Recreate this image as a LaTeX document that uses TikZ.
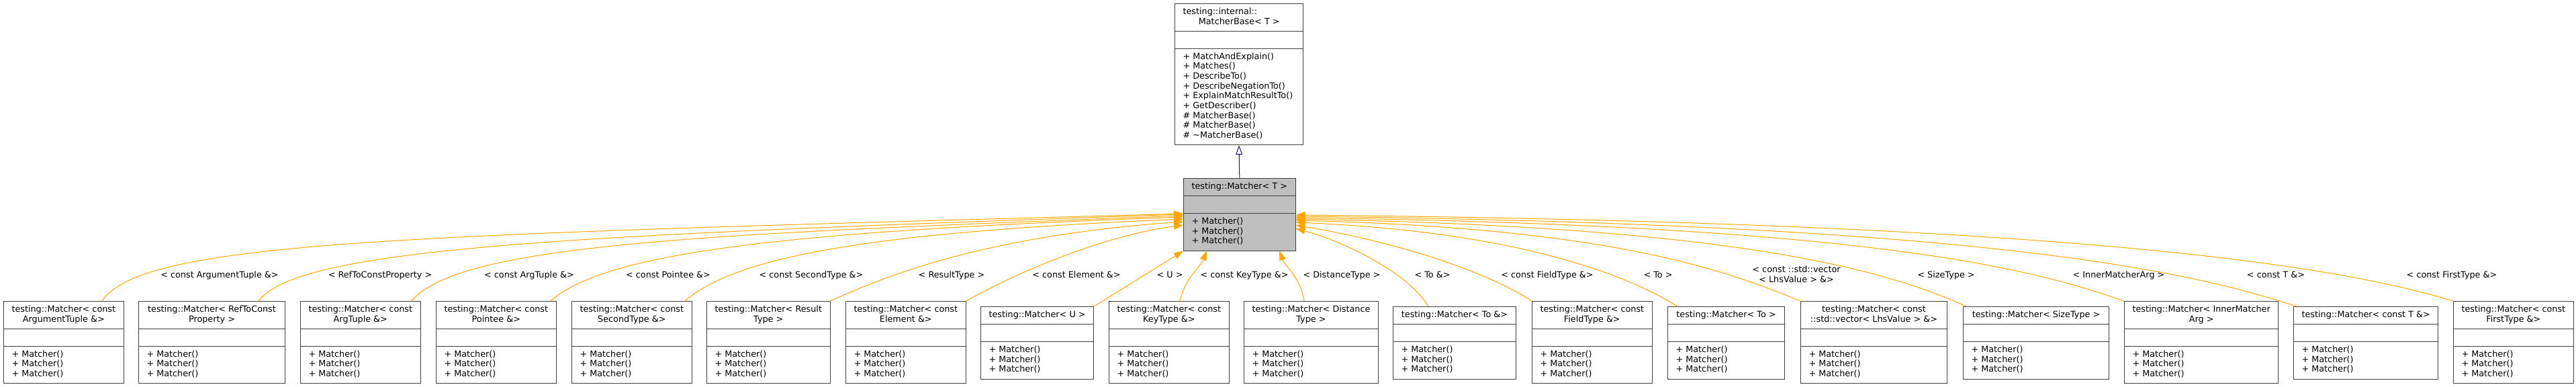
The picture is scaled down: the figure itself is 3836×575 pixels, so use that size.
\documentclass[tikz,border=0pt]{standalone}
\usepackage{fontspec}
\setmainfont{DejaVu Sans}
\usetikzlibrary{shapes.multipart,arrows.meta,calc}
\definecolor{edgeorange}{HTML}{FFA500}
\definecolor{edgenavy}{HTML}{191970}
\definecolor{boxgray}{HTML}{BFBFBF}
\newcommand{\ttl}[1]{\begin{tabular}{@{}c@{}}#1\end{tabular}}
\newcommand{\mtd}{\begin{tabular}{@{}l@{}}+ Matcher()\\+ Matcher()\\+ Matcher()\end{tabular}}

\begin{document}
\begin{tikzpicture}[x=0.75pt,y=-0.75pt,
    font=\fontsize{9.6}{11}\selectfont,
    cls/.style={draw=black!75, line width=0.75pt, rectangle split, rectangle split parts=3,
      rectangle split part align={center,left,left}, inner xsep=9pt, inner ysep=3.9pt, anchor=north west},
    tmpl/.style={draw=edgeorange, line width=0.75pt, -{Triangle[length=10.5pt,width=7.5pt]}},
    lbl/.style={anchor=base, inner sep=0pt}]
    \useasboundingbox (0,0) rectangle (3836,575);
    % base class and the template
    \node[cls, rectangle split part align={left,left,left}, minimum width=143.25pt] (base) at (1749,5)
      {\begin{tabular}{@{}l@{}}testing::internal::\\\hspace{17.5pt}MatcherBase< T >\end{tabular}
       \nodepart{second}\strut
       \nodepart{third}\begin{tabular}{@{}l@{}}+ MatchAndExplain()\\+ Matches()\\+ DescribeTo()\\+ DescribeNegationTo()\\+ ExplainMatchResultTo()\\+ GetDescriber()\\\# MatcherBase()\\\# MatcherBase()\\\# \textasciitilde MatcherBase()\end{tabular}};
    \node[cls, fill=boxgray, minimum width=123.75pt] (mt) at (1762,265)
      {\ttl{testing::Matcher< T >}\nodepart{second}\strut\nodepart{third}\mtd};
    \draw[edgenavy, line width=0.75pt, -{Triangle[open,length=10.5pt,width=7.5pt,fill=white]}] (mt.north) -- (base.south);
    % instances, left to right
    \node[cls, minimum width=133.5pt] (d1) at (5,448) {\ttl{testing::Matcher< const\\ArgumentTuple \&>}\nodepart{second}\strut\nodepart{third}\mtd};
    \node[cls, minimum width=163.5pt] (d2) at (206,448) {\ttl{testing::Matcher< RefToConst\\Property >}\nodepart{second}\strut\nodepart{third}\mtd};
    \node[cls, minimum width=133.5pt] (d3) at (447,448) {\ttl{testing::Matcher< const\\ArgTuple \&>}\nodepart{second}\strut\nodepart{third}\mtd};
    \node[cls, minimum width=132.75pt] (d4) at (649,448) {\ttl{testing::Matcher< const\\Pointee \&>}\nodepart{second}\strut\nodepart{third}\mtd};
    \node[cls, minimum width=132.75pt] (d5) at (851,448) {\ttl{testing::Matcher< const\\SecondType \&>}\nodepart{second}\strut\nodepart{third}\mtd};
    \node[cls, minimum width=136.5pt] (d6) at (1052,448) {\ttl{testing::Matcher< Result\\Type >}\nodepart{second}\strut\nodepart{third}\mtd};
    \node[cls, minimum width=132.75pt] (d7) at (1259,448) {\ttl{testing::Matcher< const\\Element \&>}\nodepart{second}\strut\nodepart{third}\mtd};
    \node[cls, minimum width=124.5pt] (d8) at (1460,456) {\ttl{testing::Matcher< U >}\nodepart{second}\strut\nodepart{third}\mtd};
    \node[cls, minimum width=132.75pt] (d9) at (1651,448) {\ttl{testing::Matcher< const\\KeyType \&>}\nodepart{second}\strut\nodepart{third}\mtd};
    \node[cls, minimum width=148.5pt] (d10) at (1852,448) {\ttl{testing::Matcher< Distance\\Type >}\nodepart{second}\strut\nodepart{third}\mtd};
    \node[cls, minimum width=137.25pt] (d11) at (2074,456) {\ttl{testing::Matcher< To \&>}\nodepart{second}\strut\nodepart{third}\mtd};
    \node[cls, minimum width=133.5pt] (d12) at (2281,448) {\ttl{testing::Matcher< const\\FieldType \&>}\nodepart{second}\strut\nodepart{third}\mtd};
    \node[cls, minimum width=130.5pt] (d13) at (2483,456) {\ttl{testing::Matcher< To >}\nodepart{second}\strut\nodepart{third}\mtd};
    \node[cls, minimum width=163.5pt] (d14) at (2681,448) {\ttl{testing::Matcher< const\\::std::vector< LhsValue > \&>}\nodepart{second}\strut\nodepart{third}\mtd};
    \node[cls, minimum width=162.75pt] (d15) at (2923,456) {\ttl{testing::Matcher< SizeType >}\nodepart{second}\strut\nodepart{third}\mtd};
    \node[cls, minimum width=170.25pt] (d16) at (3163,448) {\ttl{testing::Matcher< InnerMatcher\\Arg >}\nodepart{second}\strut\nodepart{third}\mtd};
    \node[cls, minimum width=160.5pt] (d17) at (3415,456) {\ttl{testing::Matcher< const T \&>}\nodepart{second}\strut\nodepart{third}\mtd};
    \node[cls, minimum width=133.5pt] (d18) at (3653,448) {\ttl{testing::Matcher< const\\FirstType \&>}\nodepart{second}\strut\nodepart{third}\mtd};
    % template arguments
    \node[lbl] (l1) at (327,413) {< const ArgumentTuple \&>};
    \node[lbl] (l2) at (566,413) {< RefToConstProperty >};
    \node[lbl] (l3) at (788,413) {< const ArgTuple \&>};
    \node[lbl] (l4) at (995,413) {< const Pointee \&>};
    \node[lbl] (l5) at (1208,413) {< const SecondType \&>};
    \node[lbl] (l6) at (1417,413) {< ResultType >};
    \node[lbl] (l7) at (1603,413) {< const Element \&>};
    \node[lbl] (l8) at (1742,413) {< U >};
    \node[lbl] (l9) at (1853,413) {< const KeyType \&>};
    \node[lbl] (l10) at (1998,413) {< DistanceType >};
    \node[lbl] (l11) at (2133,413) {< To \&>};
    \node[lbl] (l12) at (2304,413) {< const FieldType \&>};
    \node[lbl] (l13) at (2469,413) {< To >};
    \node[inner sep=0pt] (l14) at (2675,410) {\ttl{< const ::std::vector\\< LhsValue > \&>}};
    \node[lbl] (l15) at (2898,413) {< SizeType >};
    \node[lbl] (l16) at (3155,413) {< InnerMatcherArg >};
    \node[lbl] (l17) at (3389,413) {< const T \&>};
    \node[lbl] (l18) at (3651,413) {< const FirstType \&>};
    % edges into the left side
    \draw[tmpl] ($(d1.north west)+(147,0)$) .. controls +(60,-90) and +(-1162,32) .. ($(mt.north west)+(0,53)$);
    \draw[tmpl] ($(d2.north west)+(179,0)$) .. controls +(60,-80) and +(-912,31) .. ($(mt.north west)+(0,54)$);
    \draw[tmpl] ($(d3.north west)+(166,0)$) .. controls +(70,-85) and +(-712,27) .. ($(mt.north west)+(0,56)$);
    \draw[tmpl] ($(d4.north west)+(171,0)$) .. controls +(80,-70) and +(-612,22) .. ($(mt.north west)+(0,58)$);
    \draw[tmpl] ($(d5.north west)+(169,0)$) .. controls +(80,-70) and +(-442,19) .. ($(mt.north west)+(0,61)$);
    \draw[tmpl] (d6.north east) .. controls +(94,-43) and +(-282,20) .. ($(mt.north west)+(0,65)$);
    \draw[tmpl] (d7.north east) .. controls +(90,-50) and +(-112,15) .. ($(mt.north west)+(0,70)$);
    % edges into the bottom
    \draw[tmpl] (d8.north east) -- (mt.south west);
    \draw[tmpl] ($(d9.north west)+(106,0)$) .. controls +(8,-35) and +(-10,25) .. ($(mt.south west)+(35,0)$);
    \draw[tmpl] ($(d10.north west)+(90,0)$) .. controls +(-5,-35) and +(10,25) .. ($(mt.south west)+(143,0)$);
    % edges into the right side
    \draw[tmpl] ($(d11.north west)+(53,0)$) .. controls +(-30,-50) and +(73,20) .. ($(mt.north east)+(0,75)$);
    \draw[tmpl] (d12.north west) .. controls +(-70,-45) and +(153,26) .. ($(mt.north east)+(0,70)$);
    \draw[tmpl] ($(d13.north west)+(15,0)$) .. controls +(-80,-50) and +(323,14) .. ($(mt.north east)+(0,66)$);
    \draw[tmpl] (d14.north west) .. controls +(-110,-45) and +(473,12) .. ($(mt.north east)+(0,63)$);
    \draw[tmpl] ($(d15.north west)+(5,0)$) .. controls +(-110,-50) and +(673,12) .. ($(mt.north east)+(0,61)$);
    \draw[tmpl] (d16.north west) .. controls +(-130,-45) and +(873,12) .. ($(mt.north east)+(0,59)$);
    \draw[tmpl] ($(d17.north west)+(5,0)$) .. controls +(-140,-45) and +(1073,12) .. ($(mt.north east)+(0,57)$);
    \draw[tmpl] (d18.north west) .. controls +(-150,-45) and +(1223,12) .. ($(mt.north east)+(0,55)$);
\end{tikzpicture}
\end{document}
